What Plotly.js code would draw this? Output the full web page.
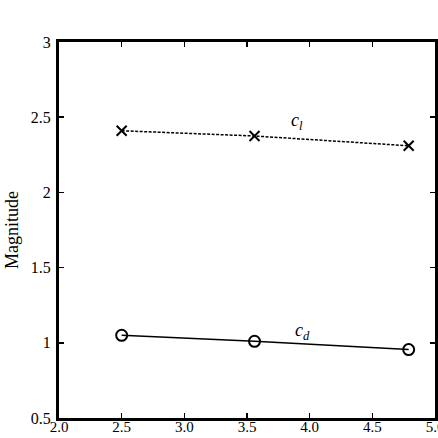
<!DOCTYPE html>
<html><head><meta charset="utf-8">
<script src="https://cdn.plot.ly/plotly-3.0.1.min.js"></script>
<style>html,body{margin:0;padding:0;background:#fff;}#chart{width:438px;height:438px;}</style>
</head><body><div id="chart"></div>
<script>
var xValues = [2.5, 3.56, 4.79];
var clValues = [2.41, 2.375, 2.31];
var cdValues = [1.05, 1.01, 0.955];
var xTicks = [2.0, 2.5, 3.0, 3.5, 4.0, 4.5, 5.0];
var xTickText = ["2.0", "2.5", "3.0", "3.5", "4.0", "4.5", "5.0"];
var yTicks = [0.5, 1, 1.5, 2, 2.5, 3];
var yTickText = ["0.5", "1", "1.5", "2", "2.5", "3"];
var labelText = ["<i>c</i><sub><i>l</i></sub>", "<i>c</i><sub><i>d</i></sub>"];
var labelX = [3.9, 3.94];
var labelY = [2.47, 1.075];

var font = "Liberation Serif, Times New Roman, serif";
var traces = [
  {x: xValues, y: clValues, mode: 'lines+markers', type: 'scatter',
   line: {color: '#000', width: 1.5, dash: '3px,1.5px'},
   marker: {symbol: 'x-thin-open', size: 10, color: '#000', line: {color: '#000', width: 2}}},
  {x: xValues, y: cdValues, mode: 'lines+markers', type: 'scatter',
   line: {color: '#000', width: 1.5},
   marker: {symbol: 'circle-open', size: 11, color: '#000', line: {color: '#000', width: 2}}}
];
var annotations = labelText.map(function(t, i){
  return {x: labelX[i], y: labelY[i], xref: 'x', yref: 'y', text: t, showarrow: false,
          font: {family: font, size: 18, color: '#000'}};
});
var layout = {
  width: 438, height: 438,
  margin: {l: 59, r: 3, t: 42, b: 20},
  paper_bgcolor: '#fff', plot_bgcolor: '#fff',
  showlegend: false,
  font: {family: font, size: 16, color: '#000'},
  xaxis: {range: [2.0, 5.0], tickvals: xTicks, ticktext: xTickText, showgrid: false, zeroline: false,
          showline: true, linecolor: '#000', linewidth: 3, mirror: 'ticks', ticks: 'inside',
          ticklen: 5, tickwidth: 1.5, tickcolor: '#000', ticklabelstandoff: -7,
          ticklabeloverflow: 'allow',
          tickfont: {family: font, size: 15, color: '#000'}},
  yaxis: {range: [0.5, 3], tickvals: yTicks, ticktext: yTickText, showgrid: false, zeroline: false,
          showline: true, linecolor: '#000', linewidth: 3, mirror: 'ticks', ticks: 'inside',
          ticklen: 5, tickwidth: 1.5, tickcolor: '#000', ticklabelstandoff: 2,
          tickfont: {family: font, size: 16, color: '#000'},
          title: {text: 'Magnitude', font: {family: font, size: 18, color: '#000'}, standoff: 8}},
  annotations: annotations
};
Plotly.newPlot('chart', traces, layout, {displayModeBar: false, staticPlot: true});
</script></body></html>
